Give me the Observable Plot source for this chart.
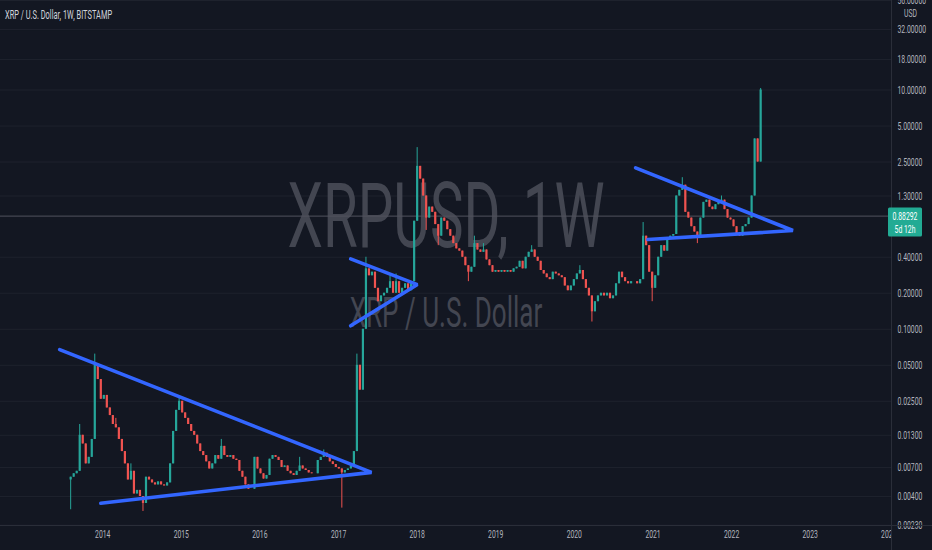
<!DOCTYPE html>
<html><head><meta charset="utf-8">
<script src="https://cdn.jsdelivr.net/npm/d3@7"></script>
<script src="https://cdn.jsdelivr.net/npm/@observablehq/plot@0.6"></script>
<style>
html,body{margin:0;padding:0;background:#131722;}
#chart{width:932px;height:550px;overflow:hidden;}
</style></head><body><div id="chart"></div>
<script>
// ---- data ----
const titleText = "XRP / U.S. Dollar, 1W, BITSTAMP";
const symbolText = "XRPUSD, 1W";
const descText = "XRP / U.S. Dollar";
const startDate = Date.UTC(2013, 7, 5);   // first candle
const periodDays = 14;                     // candles aggregated to 2 weeks
const firstOpen = 0.0055;
const closes = [
0.0058,0.0062,0.0065,0.013,0.011,0.0075,0.0085,0.012,0.05,0.038,
0.026,0.028,0.022,0.019,0.016,0.015,0.012,0.0095,0.0075,0.0055,
0.0065,0.0042,0.0045,0.0040,0.0035,0.0058,0.0055,0.0052,0.0050,0.0053,
0.0050,0.0049,0.0052,0.0075,0.014,0.021,0.025,0.020,0.018,0.016,
0.014,0.013,0.011,0.0095,0.0088,0.0078,0.0068,0.0075,0.0088,0.0082,
0.0105,0.0088,0.0085,0.0088,0.0082,0.0080,0.0065,0.0058,0.0050,0.0046,
0.0046,0.0085,0.0068,0.0062,0.0056,0.0060,0.0082,0.0088,0.0085,0.0080,
0.0070,0.0072,0.0065,0.0062,0.0060,0.0065,0.0072,0.0068,0.0066,0.0063,
0.0062,0.0062,0.0080,0.0085,0.0092,0.0085,0.0078,0.0074,0.0070,0.0068,
0.0063,0.0066,0.0068,0.0072,0.0095,0.05,0.031,0.1,0.32,0.28,
0.30,0.22,0.17,0.19,0.20,0.22,0.25,0.20,0.25,0.20,
0.22,0.24,0.21,0.25,0.8,2.3,1.8,1.3,0.85,1.05,
0.95,0.75,0.6,0.85,0.8,0.68,0.6,0.52,0.47,0.45,
0.40,0.34,0.30,0.33,0.52,0.46,0.44,0.46,0.38,0.34,
0.30,0.31,0.30,0.31,0.30,0.31,0.30,0.32,0.33,0.37,
0.32,0.40,0.44,0.46,0.40,0.37,0.31,0.29,0.27,0.26,
0.30,0.29,0.28,0.27,0.23,0.21,0.23,0.26,0.29,0.31,
0.26,0.22,0.19,0.14,0.17,0.19,0.20,0.19,0.20,0.18,
0.19,0.24,0.30,0.27,0.25,0.24,0.25,0.25,0.24,0.26,
0.60,0.50,0.30,0.22,0.28,0.40,0.50,0.45,0.58,0.60,
0.62,1.30,1.45,1.60,0.95,0.85,0.72,0.65,0.60,0.85,
1.15,1.20,1.05,1.00,1.10,1.15,1.20,1.00,0.85,0.82,
0.72,0.62,0.60,0.72,0.75,0.85,1.30,3.90,2.50,10.0
];
// notable wicks: [candle index, high, low]
const wicks = [
[0,null,0.0031],[3,0.016,null],[8,0.062,null],[15,0.018,null],[20,0.0075,null],
[24,null,0.003],[36,0.027,null],[50,0.012,null],[76,0.0085,null],[84,0.0098,null],
[90,null,0.0032],[95,0.062,null],[98,0.4,null],[106,0.28,null],[108,0.29,null],
[115,3.3,null],[118,null,0.67],[122,null,0.5],[132,null,0.25],[134,0.6,null],
[137,0.52,null],[153,0.5,null],[169,0.34,null],[173,null,0.115],[190,0.78,null],
[193,null,0.17],[203,1.85,null],[208,null,0.52],[216,1.3,null],[229,10.3,null]
];
const priceTicks = [0.0023,0.004,0.007,0.013,0.025,0.05,0.1,0.2,0.4,1.3,2.5,5,10,18,32,56];
const yearTicks = [2014,2015,2016,2017,2018,2019,2020,2021,2022,2023,2024];
const lastPrice = 0.88292;
const countdown = "5d 12h";
const currency = "USD";
// trend-line triangles: upper start -> apex -> lower start
const trendLines = [
  {id:1, pts:[["2013-06-15",0.0676],["2017-06-03",0.00637],["2013-12-23",0.00351]]},
  {id:2, pts:[["2017-02-26",0.388],["2018-01-02",0.2364],["2017-02-26",0.107]]},
  {id:3, pts:[["2020-10-12",2.236],["2022-10-13",0.669],["2020-12-08",0.5623]]}
];

// ---- build tables ----
const UP = "#26a69a", DOWN = "#ef5350";
const candles = closes.map((c, i) => {
  const o = i ? closes[i - 1] : firstOpen;
  return {date: new Date(startDate + i * periodDays * 864e5), open: o, close: c,
          high: Math.max(o, c), low: Math.min(o, c), col: c >= o ? UP : DOWN};
});
for (const [i, h, l] of wicks) {
  if (h != null) candles[i].high = h;
  if (l != null) candles[i].low = l;
}
const trendPts = trendLines.flatMap(t => t.pts.map(([d, p]) => ({id: t.id, date: new Date(d + "T00:00Z"), price: p})));
const yearDates = yearTicks.map(y => new Date(Date.UTC(y, 0, 1)));

const FONT = "Roboto, 'Liberation Sans', sans-serif";
const chart = Plot.plot({
  width: 932, height: 550,
  marginTop: 0, marginBottom: 25, marginLeft: 0, marginRight: 41,
  style: {background: "#131722", color: "#b2b5be", fontFamily: FONT, fontSize: "11px"},
  x: {type: "utc", domain: [new Date(Date.UTC(2012, 8, 13)), new Date(Date.UTC(2024, 0, 14))], axis: null},
  y: {type: "log", domain: [0.00229, 56], axis: null},
  color: {type: "identity"},
  marks: [
    Plot.ruleY(priceTicks, {stroke: "#1e222d", strokeWidth: 1}),
    Plot.text([symbolText], {frameAnchor: "middle", dy: -45, fontSize: 91, fill: "#434651"}),
    Plot.text([descText], {frameAnchor: "middle", dy: 51, fontSize: 42, fill: "#434651"}),
    Plot.ruleY([lastPrice], {stroke: "#50535e", strokeWidth: 1}),
    Plot.ruleX(candles, {x: "date", y1: "low", y2: "high", stroke: "col", strokeWidth: 1}),
    Plot.ruleX(candles, {x: "date", y1: "open", y2: "close", stroke: "col", strokeWidth: 2.2}),
    Plot.line(trendPts, {x: "date", y: "price", z: "id", stroke: "#3366ff", strokeWidth: 3.6, strokeLinecap: "round", strokeLinejoin: "miter"}),
    Plot.text(priceTicks, {y: d => d, text: d => d.toFixed(5), frameAnchor: "right", dx: 6, textAnchor: "start", fill: "#b2b5be", fontSize: 11}),
    Plot.text(yearDates, {x: d => d, text: d => String(d.getUTCFullYear()), frameAnchor: "bottom", dy: 12, textAnchor: "middle", fill: "#b2b5be", fontSize: 11})
  ]
});
document.getElementById("chart").appendChild(chart);

const svg = d3.select(chart);
const ys = chart.scale("y");
// panel borders
svg.append("line").attr("x1", 0).attr("x2", 932).attr("y1", 525.5).attr("y2", 525.5).attr("stroke", "#2a2e39");
svg.append("line").attr("x1", 891.5).attr("x2", 891.5).attr("y1", 0).attr("y2", 550).attr("stroke", "#2a2e39");
// clip year labels at the price scale
svg.append("defs").append("clipPath").attr("id", "xclip").append("rect").attr("x", 0).attr("y", 0).attr("width", 891).attr("height", 550);
svg.selectAll("text").filter(function() { return this.textContent === String(yearTicks[0]); })
  .each(function() { this.parentNode.setAttribute("clip-path", "url(#xclip)"); });
// title
svg.append("text").attr("x", 5).attr("y", 19).attr("text-anchor", "start").attr("fill", "#d1d4dc").attr("font-size", 12).text(titleText);
// currency label
svg.append("text").attr("x", 910.5).attr("y", 17).attr("text-anchor", "middle").attr("fill", "#b2b5be").attr("font-size", 11).text(currency);
// last price label
const yp = ys.apply(lastPrice);
svg.append("rect").attr("x", 888).attr("y", yp - 8).attr("width", 34).attr("height", 29).attr("rx", 1.5).attr("fill", "#22ab94");
svg.append("text").attr("x", 905).attr("y", yp + 4).attr("text-anchor", "middle").attr("fill", "#ffffff").attr("font-size", 11).text(lastPrice.toFixed(5));
svg.append("text").attr("x", 905).attr("y", yp + 17).attr("text-anchor", "middle").attr("fill", "#ffffff").attr("font-size", 11).text(countdown);

// the reference picture is horizontally compressed: narrow all texts
svg.selectAll("text").each(function() {
  const len = this.getComputedTextLength();
  if (len > 0) {
    this.setAttribute("textLength", (len * 0.62).toFixed(1));
    this.setAttribute("lengthAdjust", "spacingAndGlyphs");
  }
});
</script></body></html>
